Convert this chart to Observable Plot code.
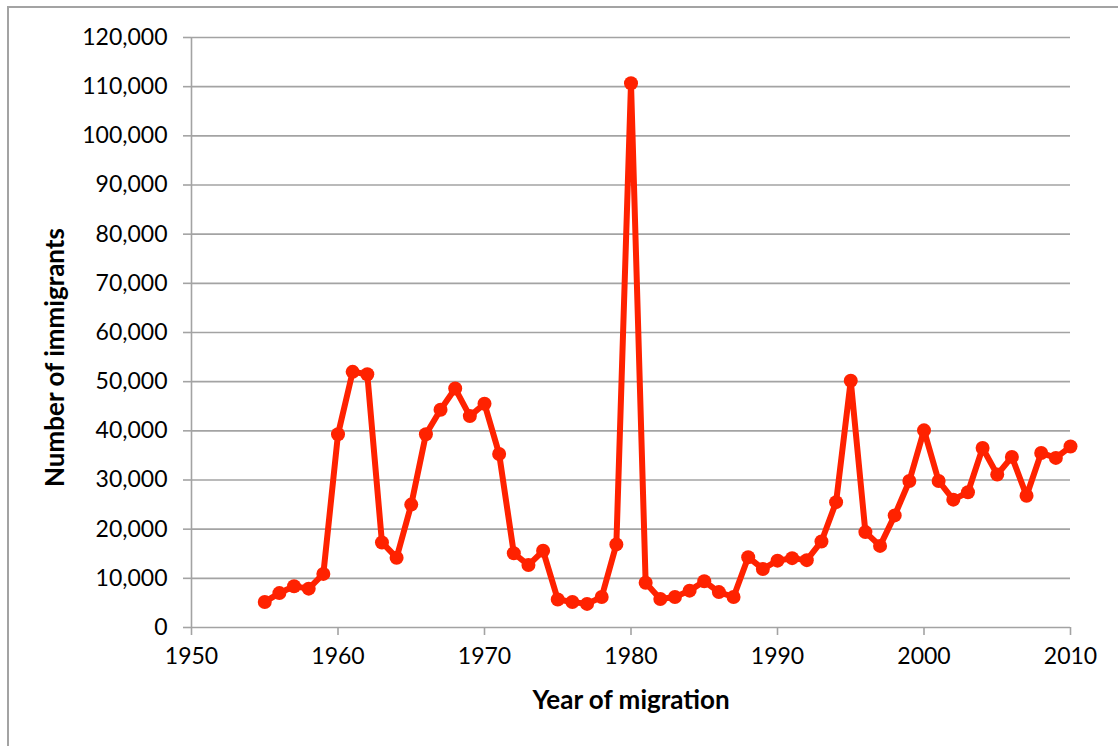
<!DOCTYPE html>
<html>
<head>
<meta charset="utf-8">
<script src="https://cdn.jsdelivr.net/npm/d3@7"></script>
<script src="https://cdn.jsdelivr.net/npm/@observablehq/plot@0.6"></script>
<style>
  html, body { margin: 0; padding: 0; background: #fff; }
  #wrap { position: relative; width: 1118px; height: 746px; overflow: hidden; }
  #frame { position: absolute; left: 7px; top: 6px; width: 1300px; height: 900px;
           border-left: 2px solid #a3a3a3; border-top: 2px solid #a3a3a3; }
  #chart { position: absolute; left: 0; top: 0; }
</style>
</head>
<body>
<div id="wrap"><div id="frame"></div><div id="chart"></div></div>
<script>
const years = [1955,1956,1957,1958,1959,1960,1961,1962,1963,1964,1965,1966,1967,1968,1969,1970,
  1971,1972,1973,1974,1975,1976,1977,1978,1979,1980,1981,1982,1983,1984,1985,1986,1987,1988,1989,1990,
  1991,1992,1993,1994,1995,1996,1997,1998,1999,2000,2001,2002,2003,2004,2005,2006,2007,2008,2009,2010];
const immigrants = [5200,7000,8400,7900,10900,39300,52000,51500,17300,14200,25000,39300,44300,48600,43000,45500,
  35300,15100,12700,15600,5700,5200,4800,6200,16900,110700,9100,5800,6200,7500,9400,7200,6200,14300,11900,13600,
  14100,13700,17500,25500,50200,19400,16600,22800,29800,40100,29800,26000,27500,36500,31100,34700,26800,35500,34500,36800];
const xTicks = [1950,1960,1970,1980,1990,2000,2010];
const yTicks = [0,10000,20000,30000,40000,50000,60000,70000,80000,90000,100000,110000,120000];
const xLabel = "Year of migration";
const yLabel = "Number of immigrants";

const data = years.map((y, i) => ({year: y, value: immigrants[i]}));
const red = "#ff2200";
const grey = "#a3a3a3";
const font = "Lato, 'Open Sans', sans-serif";

const chart = Plot.plot({
  width: 1118,
  height: 746,
  marginLeft: 191,
  marginRight: 48,
  marginTop: 37,
  marginBottom: 119,
  style: {fontFamily: font, fontSize: "23px", color: "black", background: "transparent"},
  x: {domain: [1950, 2010], label: null},
  y: {domain: [0, 120000], label: null},
  marks: [
    Plot.ruleY(yTicks, {stroke: grey, strokeWidth: 1.6}),
    Plot.ruleX([1950], {stroke: grey, strokeWidth: 1.6}),
    Plot.axisY({ticks: yTicks, tickFormat: d3.format(","), tickSize: 8, tickPadding: 16,
      stroke: grey, strokeWidth: 1.6, strokeOpacity: 1, fill: "black", fontSize: 23, label: null}),
    Plot.axisX({ticks: xTicks, tickFormat: "d", tickSize: 8, tickPadding: 12,
      stroke: grey, strokeWidth: 1.6, strokeOpacity: 1, fill: "black", fontSize: 23, label: null}),
    Plot.line(data, {x: "year", y: "value", stroke: red, strokeWidth: 6, strokeLinejoin: "round", strokeLinecap: "round"}),
    Plot.dot(data, {x: "year", y: "value", r: 7, fill: red, stroke: null}),
    Plot.text([xLabel], {frameAnchor: "bottom", dy: 73, lineAnchor: "middle", textAnchor: "middle",
      fontSize: 26, fontWeight: "bold", fill: "black"}),
    Plot.text([yLabel], {frameAnchor: "left", dx: -136, dy: 25, rotate: -90, lineAnchor: "middle", textAnchor: "middle",
      fontSize: 26, fontWeight: "bold", fill: "black"})
  ]
});
document.getElementById("chart").appendChild(chart);
</script>
</body>
</html>
